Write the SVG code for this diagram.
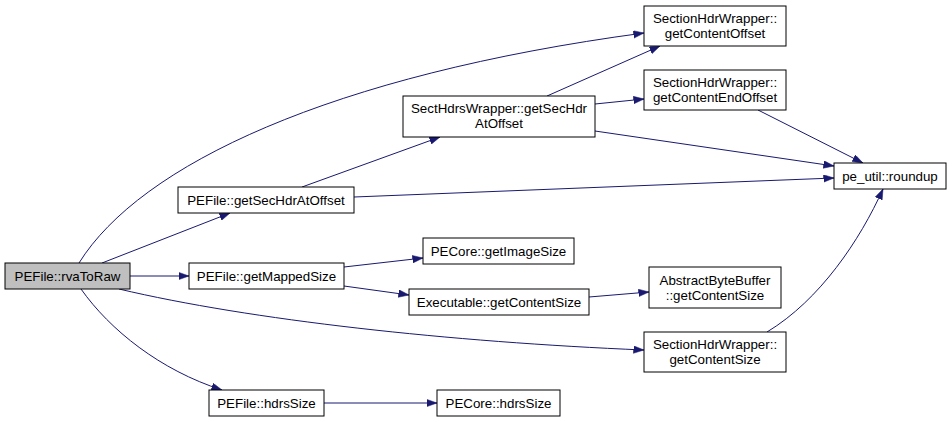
<svg xmlns="http://www.w3.org/2000/svg" width="952" height="422" viewBox="0 0 952 422">
<style>
.n rect{fill:#fff;stroke:#000;stroke-width:1}
.root rect{fill:#bfbfbf}
text{font-family:"Liberation Sans",Arial,sans-serif;font-size:13.33px;text-anchor:middle;fill:#000}
.e path{fill:none;stroke:#191970;stroke-width:1;marker-end:url(#ah)}
</style>
<defs>
<marker id="ah" markerUnits="userSpaceOnUse" markerWidth="11" markerHeight="8" refX="10.5" refY="3.75" orient="auto">
<path d="M0,0 L10.5,3.75 L0,7.5 z" fill="#191970" stroke="#191970" stroke-width="0.5"/>
</marker>
</defs>
<rect width="952" height="422" fill="#fff"/>
<g id="edges" class="e">
<path d="M79,263 C140,165 330,75 644,33"/>
<path d="M102,263 L230,213"/>
<path d="M130,276 L189,276"/>
<path d="M119,289 C250,320 450,342 644,350"/>
<path d="M81,289 C110,330 160,370 222,390"/>
<path d="M302,187 L440,137"/>
<path d="M354,197 L834,178"/>
<path d="M547,96 L660,46"/>
<path d="M595,104 L644,99"/>
<path d="M595,131 L834,166"/>
<path d="M758,110 L863,163"/>
<path d="M344,267 L423,258"/>
<path d="M344,286 L409,295"/>
<path d="M589,297 L649,292"/>
<path d="M324,403 L437,403"/>
<path d="M767,332 C820,300 860,240 883,189"/>
</g>
<g id="rvaToRaw" class="n root"><rect x="5" y="263" width="125" height="26"/><text x="67.5" y="281">PEFile::rvaToRaw</text></g>
<g id="getSecHdrAtOffset" class="n"><rect x="178" y="187" width="176" height="26"/><text x="266" y="205">PEFile::getSecHdrAtOffset</text></g>
<g id="getMappedSize" class="n"><rect x="189" y="263" width="155" height="26"/><text x="266.5" y="281">PEFile::getMappedSize</text></g>
<g id="hdrsSize" class="n"><rect x="209" y="390" width="115" height="26"/><text x="266.5" y="408">PEFile::hdrsSize</text></g>
<g id="sectHdrsGetSecHdr" class="n"><rect x="403" y="96" width="192" height="41"/><text x="499" y="113">SectHdrsWrapper::getSecHdr</text><text x="499" y="128">AtOffset</text></g>
<g id="getImageSize" class="n"><rect x="423" y="238" width="151" height="26"/><text x="498.5" y="256">PECore::getImageSize</text></g>
<g id="execGetContentSize" class="n"><rect x="409" y="289" width="180" height="26"/><text x="499" y="307">Executable::getContentSize</text></g>
<g id="coreHdrsSize" class="n"><rect x="437" y="390" width="123" height="26"/><text x="498.5" y="408">PECore::hdrsSize</text></g>
<g id="getContentOffset" class="n"><rect x="644" y="6" width="142" height="40"/><text x="715" y="23">SectionHdrWrapper::</text><text x="715" y="38">getContentOffset</text></g>
<g id="getContentEndOffset" class="n"><rect x="644" y="70" width="142" height="40"/><text x="715" y="87">SectionHdrWrapper::</text><text x="715" y="102">getContentEndOffset</text></g>
<g id="abbGetContentSize" class="n"><rect x="649" y="267" width="132" height="41"/><text x="715" y="285">AbstractByteBuffer</text><text x="715" y="300">::getContentSize</text></g>
<g id="shwGetContentSize" class="n"><rect x="644" y="332" width="142" height="40"/><text x="715" y="349">SectionHdrWrapper::</text><text x="715" y="364">getContentSize</text></g>
<g id="roundup" class="n"><rect x="834" y="163" width="112" height="26"/><text x="890" y="181">pe_util::roundup</text></g>
</svg>
